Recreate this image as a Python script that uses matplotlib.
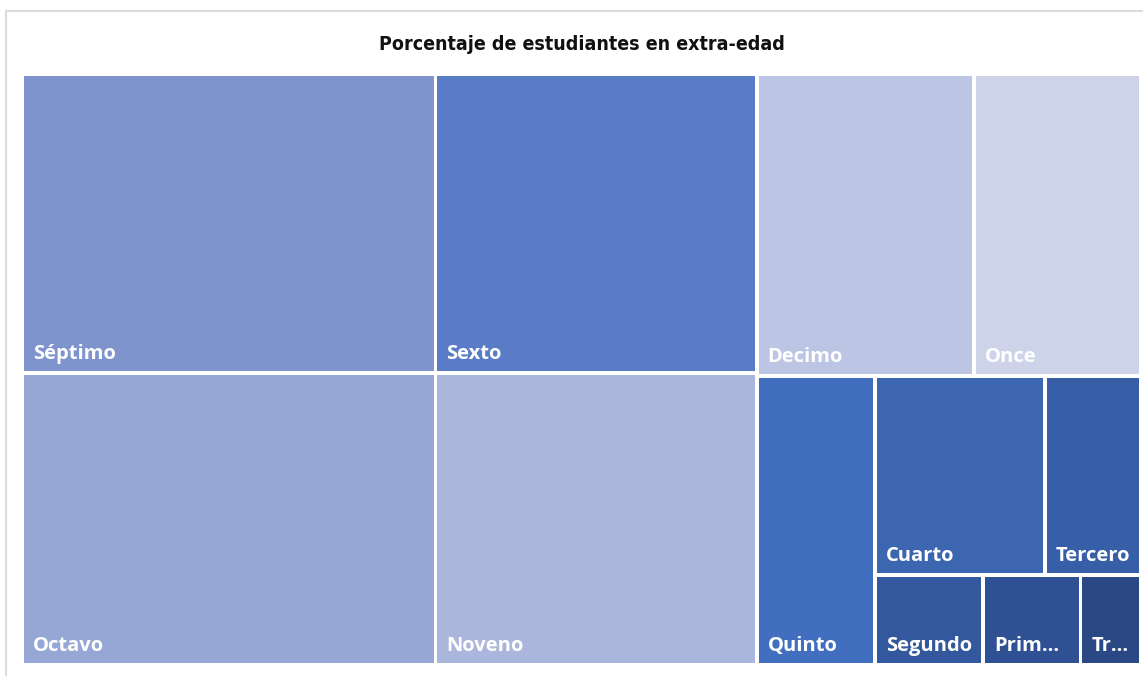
import matplotlib
matplotlib.use('Agg')
import matplotlib.pyplot as plt
from matplotlib.patches import Rectangle
from matplotlib.lines import Line2D

# Porcentaje de estudiantes en extra-edad por grado
grados = ['Séptimo', 'Octavo', 'Sexto', 'Noveno', 'Decimo', 'Once',
          'Quinto', 'Cuarto', 'Tercero', 'Segundo', 'Primero', 'Transición']
porcentaje = [18.70, 18.26, 14.54, 14.20, 9.91, 7.63,
              5.16, 5.12, 2.89, 1.47, 1.33, 0.82]
colores = ['#7f94cd', '#96a7d5', '#5a7cc6', '#abb6dd', '#bcc5e3', '#cdd3e8',
           '#426ebf', '#3d66b1', '#375fa8', '#33589d', '#2f5193', '#2a4884']
# cuantos grados entran en cada franja del treemap
filas = [2, 2, 2, 1, 2, 1, 1, 1]


def distribuir(valores, filas, x, y, w, h):
    """Parte el rectangulo en franjas; cada franja se apoya en el lado corto."""
    escala = w * h / sum(valores)
    rects = []
    i = 0
    for n in filas:
        grupo = valores[i:i + n]
        area = sum(grupo) * escala
        if w >= h:
            ancho = area / h
            yy = y
            for v in grupo:
                alto = v * escala / ancho
                rects.append((x, yy, ancho, alto))
                yy += alto
            x += ancho
            w -= ancho
        else:
            alto = area / w
            xx = x
            for v in grupo:
                ancho = v * escala / alto
                rects.append((xx, y, ancho, alto))
                xx += ancho
            y += alto
            h -= alto
        i += n
    return rects


fig = plt.figure(figsize=(11.43, 6.76), dpi=100)
ax = fig.add_axes([22 / 1143, 11 / 676, 1119 / 1143, 591 / 676])

# trabajamos en pixeles del eje para que el hueco sea uniforme
bbox = ax.get_position()
W = bbox.width * fig.get_figwidth() * fig.dpi
H = bbox.height * fig.get_figheight() * fig.dpi
ax.set_xlim(0, W)
ax.set_ylim(H, 0)
ax.axis('off')

hueco = 3.5
rects = distribuir(porcentaje, filas, 0, 0, W, H)

renderer = fig.canvas.get_renderer()
for nombre, (x, y, w, h), c in zip(grados, rects, colores):
    ax.add_patch(Rectangle((x + hueco / 2, y + hueco / 2), w - hueco, h - hueco,
                           facecolor=c, edgecolor='none'))
    t = ax.annotate(nombre, xy=(x + hueco / 2, y + h - hueco / 2),
                    xytext=(9, 12), textcoords='offset pixels',
                    ha='left', va='baseline', color='white',
                    fontsize=14.5, fontweight='bold', family='Open Sans')
    # recortar la etiqueta con "..." si no cabe en el bloque
    limite = w - 9 - 12
    texto = nombre
    while t.get_window_extent(renderer).width > limite and len(texto) > 1:
        texto = texto[:-1]
        t.set_text(texto + '...')

fig.text((22 + 1119 / 2) / 1143, 1 - 45 / 676,
         'Porcentaje de estudiantes en extra-edad',
         ha='center', va='center', fontsize=14, fontweight='bold',
         fontstretch='condensed', family='DejaVu Sans', color='#111111')

# marco gris del visual
fig.add_artist(Line2D([6 / 1143, 1], [1 - 11 / 676, 1 - 11 / 676],
                      transform=fig.transFigure, color='#dcdcdc', lw=1.5))
fig.add_artist(Line2D([6 / 1143, 6 / 1143], [0, 1 - 11 / 676],
                      transform=fig.transFigure, color='#dcdcdc', lw=1.5))

fig.savefig('out.png', dpi=100, facecolor='white')
